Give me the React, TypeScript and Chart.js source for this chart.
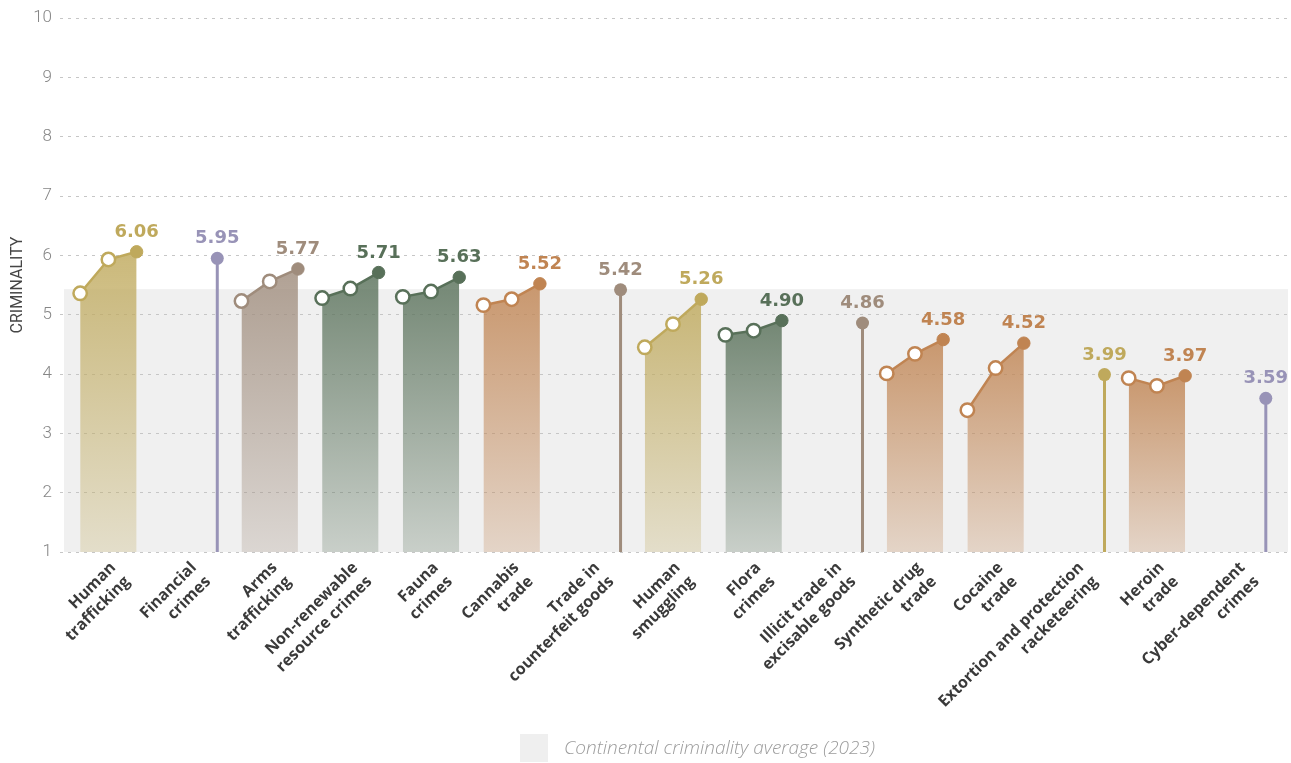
import React, { useEffect, useRef } from "react";
import { Chart, registerables } from "chart.js";

Chart.register(...registerables);

// ---- data ----
const categories: string[][] = [
  ["Human", "trafficking"],
  ["Financial", "crimes"],
  ["Arms", "trafficking"],
  ["Non-renewable", "resource crimes"],
  ["Fauna", "crimes"],
  ["Cannabis", "trade"],
  ["Trade in", "counterfeit goods"],
  ["Human", "smuggling"],
  ["Flora", "crimes"],
  ["Illicit trade in", "excisable goods"],
  ["Synthetic drug", "trade"],
  ["Cocaine", "trade"],
  ["Extortion and protection", "racketeering"],
  ["Heroin", "trade"],
  ["Cyber-dependent", "crimes"],
];

// three assessment rounds; null = only the latest score is shown (stem)
const scoreRound1: (number | null)[] = [5.36, null, 5.23, 5.28, 5.30, 5.16, null, 4.45, 4.66, null, 4.01, 3.39, null, 3.93, null];
const scoreRound2: (number | null)[] = [5.93, null, 5.56, 5.44, 5.39, 5.26, null, 4.84, 4.73, null, 4.34, 4.10, null, 3.80, null];
const scoreLatest: number[] = [6.06, 5.95, 5.77, 5.71, 5.63, 5.52, 5.42, 5.26, 4.90, 4.86, 4.58, 4.52, 3.99, 3.97, 3.59];

const roundOffsets = [-0.7, -0.35, 0];
const continentalAverage = 5.43;
const yMin = 1;
const yMax = 10;
const legendText = "Continental criminality average (2023)";
const axisTitle = "CRIMINALITY";

// ---- styles ----
const GOLD = "#bfa95c";
const LAVENDER = "#9893b7";
const TAUPE = "#9f8c7c";
const GREEN = "#587059";
const ORANGE = "#c08452";
const categoryColors = [GOLD, LAVENDER, TAUPE, GREEN, GREEN, ORANGE, TAUPE, GOLD, GREEN, TAUPE, ORANGE, ORANGE, GOLD, ORANGE, LAVENDER];

function rgba(hex: string, a: number) {
  const n = parseInt(hex.slice(1), 16);
  return `rgba(${(n >> 16) & 255},${(n >> 8) & 255},${n & 255},${a})`;
}

const bandPlugin = {
  id: "band",
  beforeDraw(chart: any) {
    const { ctx, chartArea, scales } = chart;
    if (!chartArea) return;
    const top = scales.y.getPixelForValue(continentalAverage);
    const bottom = scales.y.getPixelForValue(yMin);
    const left = chartArea.left + 4;
    const right = chartArea.right - 2;
    ctx.save();
    ctx.fillStyle = "#f0f0f0";
    ctx.fillRect(left, top, right - left, bottom - top);
    ctx.restore();
  },
};

const valueLabelPlugin = {
  id: "valueLabels",
  afterDatasetsDraw(chart: any) {
    const { ctx } = chart;
    chart.data.datasets.forEach((ds: any, i: number) => {
      const meta = chart.getDatasetMeta(i);
      const pt = meta.data[meta.data.length - 1];
      if (!pt) return;
      ctx.save();
      ctx.font = 'bold 18px "DejaVu Sans"';
      ctx.fillStyle = ds.labelColor;
      ctx.textAlign = "center";
      ctx.textBaseline = "alphabetic";
      ctx.fillText(ds.valueLabel, pt.x, pt.y - 15);
      ctx.restore();
    });
  },
};

const legendPlugin = {
  id: "customLegend",
  afterDraw(chart: any) {
    const { ctx } = chart;
    ctx.save();
    ctx.fillStyle = "#efefef";
    ctx.fillRect(520, 734, 28, 28);
    ctx.font = 'italic 300 19px "Open Sans"';
    ctx.fillStyle = "#9c9c9c";
    ctx.textAlign = "left";
    ctx.textBaseline = "middle";
    ctx.fillText(legendText, 564, 749);
    ctx.restore();
  },
};

export default function App() {
  const ref = useRef<HTMLCanvasElement | null>(null);

  useEffect(() => {
    if (!ref.current) return;
    const datasets: any[] = categories.map((_, i) => {
      const color = categoryColors[i];
      const latest = scoreLatest[i];
      if (scoreRound1[i] == null) {
        return {
          type: "line",
          data: [
            { x: i, y: yMin },
            { x: i, y: latest },
          ],
          borderColor: color,
          borderWidth: 3,
          borderCapStyle: "butt",
          fill: false,
          pointRadius: [0, 6.5],
          pointBackgroundColor: color,
          pointBorderColor: color,
          pointBorderWidth: 0,
          pointHoverRadius: [0, 6.5],
          valueLabel: latest.toFixed(2),
          labelColor: color,
        };
      }
      const vals = [scoreRound1[i] as number, scoreRound2[i] as number, latest];
      const maxV = Math.max(...vals);
      return {
        type: "line",
        data: roundOffsets.map((o, k) => ({ x: i + o, y: vals[k] })),
        borderColor: color,
        borderWidth: 2.5,
        tension: 0,
        fill: "start",
        backgroundColor: (c: any) => {
          const chart = c.chart;
          const { chartArea, scales } = chart;
          if (!chartArea) return rgba(color, 0.5);
          const yTop = scales.y.getPixelForValue(maxV);
          const yBot = scales.y.getPixelForValue(yMin);
          const g = chart.ctx.createLinearGradient(0, yTop, 0, yBot);
          g.addColorStop(0, rgba(color, 0.82));
          g.addColorStop(1, rgba(color, 0.26));
          return g;
        },
        pointRadius: [6.7, 6.7, 6.2],
        pointHoverRadius: [6.7, 6.7, 6.2],
        pointBackgroundColor: ["#ffffff", "#ffffff", color],
        pointBorderColor: color,
        pointBorderWidth: [2.5, 2.5, 1],
        valueLabel: latest.toFixed(2),
        labelColor: color,
      };
    });

    const chart = new Chart(ref.current, {
      type: "line",
      data: { datasets },
      options: {
        animation: false,
        responsive: true,
        maintainAspectRatio: false,
        events: [],
        layout: { autoPadding: false, padding: { top: 18, right: 1, bottom: 0, left: 0 } },
        plugins: {
          legend: { display: false },
          tooltip: { enabled: false },
        },
        scales: {
          x: {
            type: "linear",
            min: -0.95,
            max: 14.3,
            grid: { display: false, drawTicks: false },
            border: { display: false },
            afterBuildTicks: (axis: any) => {
              axis.ticks = categories.map((_, i) => ({ value: i - 0.29 }));
            },
            afterFit: (axis: any) => {
              axis.height = 211;
              axis.paddingLeft = 0;
              axis.paddingRight = 0;
            },
            ticks: {
              autoSkip: false,
              minRotation: 45,
              maxRotation: 45,
              padding: 6,
              color: "#3a3a3a",
              font: { family: '"Open Sans"', size: 16, weight: 700, lineHeight: 1.25 },
              callback: (_v: any, index: number) => categories[index],
            },
          },
          y: {
            type: "linear",
            min: yMin,
            max: yMax,
            grid: { color: "#c6c6c6", lineWidth: 1, drawTicks: false },
            border: { display: false, dash: [3, 5] },
            afterFit: (axis: any) => {
              axis.width = 60;
              axis.paddingTop = 0;
              axis.paddingBottom = 0;
            },
            title: {
              display: true,
              text: axisTitle,
              color: "#454545",
              font: { family: "Roboto", size: 16, weight: 400 },
              padding: { top: 8, bottom: 0 },
            },
            ticks: {
              stepSize: 1,
              padding: 8,
              color: "#868686",
              font: { family: "Roboto", size: 17, weight: 300 },
            },
          },
        },
      } as any,
      plugins: [bandPlugin, valueLabelPlugin, legendPlugin],
    });
    return () => chart.destroy();
  }, []);

  return (
    <div style={{ position: "absolute", left: 0, top: 0, width: 1291, height: 763, background: "#fff" }}>
      <canvas ref={ref} />
    </div>
  );
}
